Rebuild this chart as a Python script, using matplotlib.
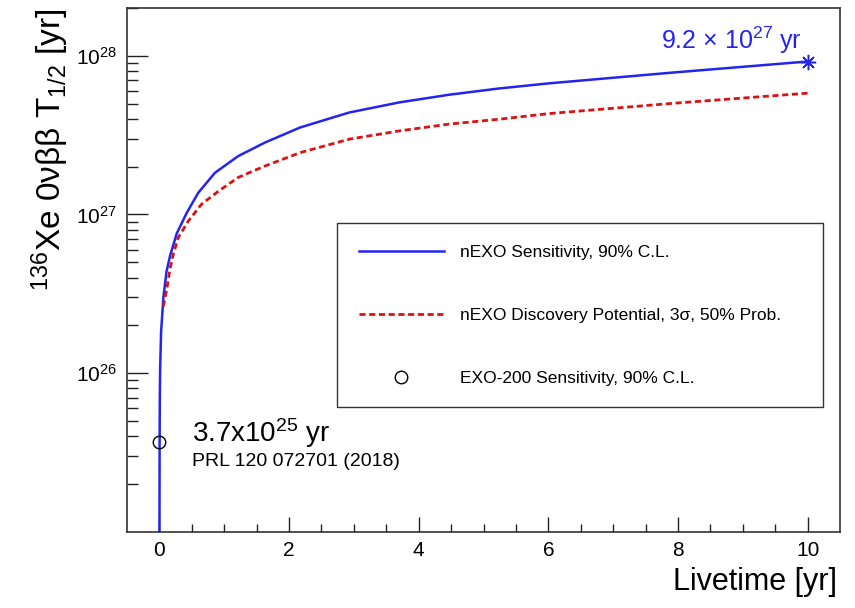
import matplotlib
matplotlib.use("Agg")
import matplotlib.pyplot as plt
from matplotlib.ticker import FixedLocator, NullFormatter, LogLocator

plt.rcParams['font.family'] = ['Liberation Sans', 'DejaVu Sans']
plt.rcParams['mathtext.fontset'] = 'custom'
plt.rcParams['mathtext.rm'] = 'Liberation Sans'
plt.rcParams['mathtext.it'] = 'Liberation Sans:italic'

# nEXO sensitivity (90% C.L.)
livetime_sens = [0.0008, 0.003, 0.006, 0.011, 0.026, 0.062, 0.11, 0.165, 0.268, 0.42,
                 0.60, 0.857, 1.215, 1.63, 2.17, 2.93, 3.70, 4.47, 5.24, 6.01, 7.91, 10.0]
halflife_sens = [1.0e25, 3.55e25, 6.76e25, 1.05e26, 1.82e26, 3.02e26, 4.37e26, 5.50e26,
                 7.59e26, 1.02e27, 1.37e27, 1.83e27, 2.33e27, 2.84e27, 3.53e27, 4.39e27,
                 5.08e27, 5.68e27, 6.22e27, 6.70e27, 7.83e27, 9.2e27]

# nEXO discovery potential (3 sigma, 50% prob.)
livetime_disc = [0.06, 0.114, 0.165, 0.215, 0.29, 0.446, 0.65, 0.91, 1.215, 1.63, 2.17,
                 2.93, 3.70, 4.47, 5.24, 6.01, 7.91, 10.0]
halflife_disc = [2.63e26, 3.39e26, 4.57e26, 5.62e26, 7.13e26, 9.08e26, 1.16e27, 1.40e27,
                 1.71e27, 2.02e27, 2.45e27, 2.98e27, 3.36e27, 3.71e27, 3.98e27, 4.32e27,
                 5.01e27, 5.81e27]

# EXO-200 point and nEXO end point
exo200_t = [0.0]
exo200_hl = [3.7e25]
end_t = [10.0]
end_hl = [9.2e27]

blue = '#2424f2'
red = '#dd1111'

fig = plt.figure(figsize=(8.55, 6.08), dpi=100)
ax = fig.add_axes([127 / 855, 1 - 531.7 / 608, 713 / 855, 523.7 / 608])

ax.plot(livetime_sens, halflife_sens, color=blue, lw=1.8,
        label='nEXO Sensitivity, 90% C.L.')
ax.plot(livetime_disc, halflife_disc, color=red, lw=2.0, dashes=(2.2, 1.3),
        label='nEXO Discovery Potential, 3σ, 50% Prob.')
ax.plot(exo200_t, exo200_hl, 'o', ms=9, mfc='none', mec='black', mew=1.0,
        label='EXO-200 Sensitivity, 90% C.L.', clip_on=False)
ax.plot(end_t, end_hl, marker=(8, 2, 0), ms=11, color=blue, mew=1.1, ls='none')

ax.set_yscale('log')
ax.set_xlim(-0.5, 10.5)
ax.set_ylim(1e25, 2e28)

ax.xaxis.set_major_locator(FixedLocator([0, 2, 4, 6, 8, 10]))
ax.xaxis.set_minor_locator(FixedLocator([0.5 * i for i in range(21) if i % 4 != 0]))
ax.yaxis.set_major_locator(FixedLocator([1e26, 1e27, 1e28]))
ax.yaxis.set_minor_locator(LogLocator(base=10, subs=range(2, 10)))
ax.yaxis.set_minor_formatter(NullFormatter())
ax.set_yticklabels([r'10$^{26}$', r'10$^{27}$', r'10$^{28}$'])

ax.tick_params(axis='both', which='both', direction='in', width=1.0, color='#222222',
               labelsize=15, top=False, right=False)
ax.tick_params(axis='x', which='major', length=10.8, pad=7)
ax.tick_params(axis='x', which='minor', length=5.5)
ax.tick_params(axis='y', which='major', length=15, pad=7)
ax.tick_params(axis='y', which='minor', length=8)
for s in ax.spines.values():
    s.set_linewidth(1.2)
    s.set_color('#333333')

# annotations
ax.text(9.905, 1.10e28, r'9.2 $\times$ 10$^{27}$ yr', color=blue, fontsize=18,
        ha='right', va='baseline')
ax.text(0.5, 3.7e25, r'3.7x10$^{25}$ yr', fontsize=20, ha='left', va='baseline')
ax.text(0.5, 2.6e25, 'PRL 120 072701 (2018)', fontsize=14, ha='left', va='baseline')

leg = ax.legend(loc='upper left', bbox_to_anchor=(0.2945, 0.2295, 0.6815, 0.36),
                mode='expand', fontsize=12.5, frameon=True, fancybox=False,
                edgecolor='#333333', framealpha=1, handlelength=4.9,
                handletextpad=0.95, labelspacing=2.75, borderpad=1.25, borderaxespad=0)
leg.get_frame().set_linewidth(1.0)

fig.text(837 / 855, 1 - 590 / 608, 'Livetime [yr]', fontsize=22, ha='right', va='baseline')
fig.text(61 / 855, 1 - 8 / 608, r'$^{136}$Xe 0νββ T$_{1/2}$ [yr]', fontsize=24,
         rotation=90, rotation_mode='anchor', ha='right', va='baseline')

fig.savefig('out.png', dpi=100)
